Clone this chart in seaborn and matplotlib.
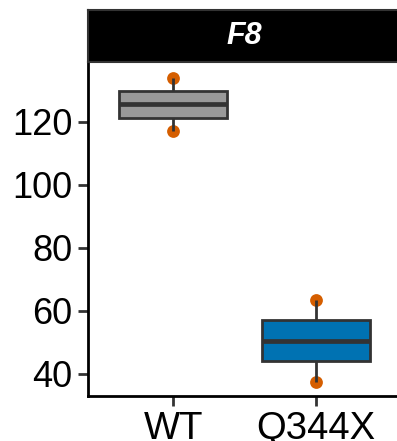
import numpy as np
import pandas as pd
import matplotlib
matplotlib.use("Agg")
import matplotlib.pyplot as plt
import seaborn as sns

# values
genotypes = ["WT", "Q344X"]
wt_values = [117.1, 125.5, 133.9]
q344x_values = [37.5, 50.5, 63.4]
panel_title = "F8"
yticks = [40, 60, 80, 100, 120]

box_colors = {"WT": "#999999", "Q344X": "#0072B2"}
point_color = "#D55E00"
line_color = "#333333"

df = pd.DataFrame({
    "genotype": ["WT"] * len(wt_values) + ["Q344X"] * len(q344x_values),
    "value": wt_values + q344x_values,
})

sns.set_style("white")
plt.rcParams["font.family"] = ["Liberation Sans", "DejaVu Sans"]

W, H = 397, 441
fig = plt.figure(figsize=(W / 100, H / 100), dpi=100)
ax = fig.add_axes([88 / W, 1 - 396 / H, (401 - 88) / W, (396 - 62) / H])
strip = fig.add_axes([88 / W, 1 - 62 / H, (401 - 88) / W, 52 / H])

sns.stripplot(data=df, x="genotype", y="value", order=genotypes, jitter=False,
              color=point_color, size=9.2, linewidth=0, zorder=0.5, ax=ax)
sns.boxplot(data=df, x="genotype", y="value", order=genotypes, hue="genotype",
            hue_order=genotypes, palette=box_colors, legend=False, width=0.76,
            linewidth=2, linecolor=line_color, saturation=1, showcaps=False,
            whis=np.inf, medianprops={"linewidth": 3.4, "color": line_color},
            ax=ax)

ax.set_xlim(-0.6, 1.6)
ax.set_ylim(33, 138.9)
ax.set_yticks(yticks)
ax.set_xlabel("")
ax.set_ylabel("")
for side in ["top", "right"]:
    ax.spines[side].set_visible(False)
for side in ["left", "bottom"]:
    ax.spines[side].set_linewidth(2)
    ax.spines[side].set_color("black")
ax.tick_params(axis="y", length=7, width=2, color=line_color, pad=4,
               labelsize=26, labelcolor="black", left=True)
ax.tick_params(axis="x", length=7, width=2, color=line_color, pad=4,
               labelsize=27.5, labelcolor="black", bottom=True)

strip.set_facecolor("black")
strip.set_xticks([])
strip.set_yticks([])
for s in strip.spines.values():
    s.set_color(line_color)
    s.set_linewidth(1.5)
strip.text(0.5, 0.5, panel_title, color="white", fontsize=22,
           fontweight="bold", fontstyle="italic", ha="center", va="center",
           transform=strip.transAxes)

fig.savefig("out.png", dpi=100)
